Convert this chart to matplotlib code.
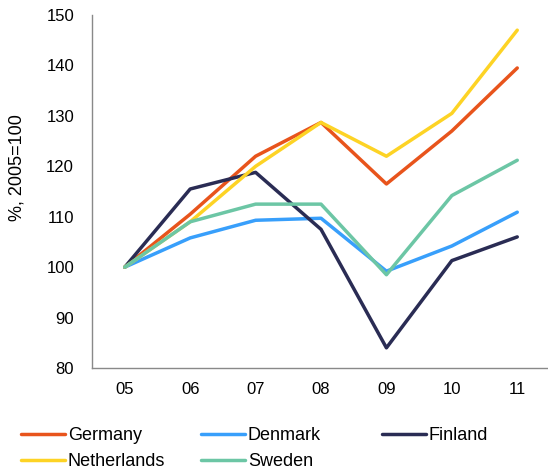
import matplotlib.pyplot as plt

plt.rcParams['font.family'] = ['Liberation Sans', 'DejaVu Sans']

years = ['05', '06', '07', '08', '09', '10', '11']
germany = [100, 110.5, 122, 128.7, 116.5, 127, 139.5]
denmark = [100, 105.8, 109.3, 109.7, 99.2, 104.2, 110.9]
finland = [100, 115.5, 118.8, 107.5, 84.0, 101.3, 106]
netherlands = [100, 109, 120, 128.7, 122, 130.5, 147]
sweden = [100, 109, 112.5, 112.5, 98.5, 114.2, 121.2]

series = [
    ('Germany', germany, '#E8541C'),
    ('Denmark', denmark, '#389FFB'),
    ('Finland', finland, '#2A2C54'),
    ('Netherlands', netherlands, '#FDD325'),
    ('Sweden', sweden, '#6CC6A5'),
]

fig = plt.figure(figsize=(5.48, 4.7), dpi=100)
ax = fig.add_axes([0.168, 0.217, 0.832, 0.751])

x = range(len(years))
lines = {}
for name, vals, col in series:
    lines[name], = ax.plot(x, vals, color=col, lw=2.5, label=name,
                           solid_capstyle='round')

ax.set_xlim(-0.5, 6.47)
ax.set_ylim(80, 150)
ax.set_xticks(list(x))
ax.set_xticklabels(years)
ax.set_yticks(range(80, 151, 10))
ax.tick_params(length=0, labelsize=12)
ax.tick_params(axis='y', pad=13)
ax.tick_params(axis='x', pad=10)
ax.set_ylabel('%, 2005=100', fontsize=13)
ax.yaxis.set_label_coords(-0.147, 0.568)

for s in ['top', 'right']:
    ax.spines[s].set_visible(False)
for s in ['left', 'bottom']:
    ax.spines[s].set_color('#898989')
    ax.spines[s].set_linewidth(1)

# legend laid out as three columns, placed by hand
cols = [(['Germany', 'Netherlands'], 20.5), (['Denmark', 'Sweden'], 200.5),
        (['Finland'], 381.5)]
for names, px in cols:
    fig.legend([lines[n] for n in names], names, loc='upper left',
               bbox_to_anchor=(px / 548, 1 - 427 / 470), frameon=False,
               fontsize=13, handlelength=2.45, handletextpad=0.18,
               labelspacing=0.52, borderpad=0, borderaxespad=0)

fig.savefig('out.png', dpi=100)
